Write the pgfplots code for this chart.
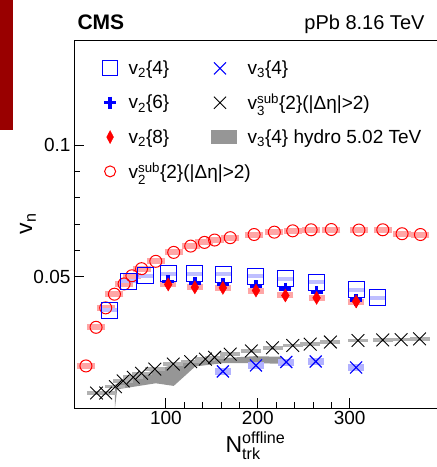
\documentclass[border=0pt]{standalone}
\usepackage{pgfplots}
\pgfplotsset{compat=1.18}
\usepackage{pgfplotstable}
\usepackage{amsmath}
\usepackage{fontspec}
\setmainfont{Liberation Sans}

\definecolor{cmsred}{RGB}{153,0,0}
\definecolor{hydro}{RGB}{150,150,150}

% v2^sub{2}(|deta|>2)
\pgfplotstableread{
N v
13 0.0160
24 0.0307
34.5 0.0381
44 0.0433
54.5 0.0472
63 0.0503
73.5 0.0530
89 0.0558
108.5 0.0592
127 0.0616
142 0.0630
153 0.0639
170 0.0648
196 0.0660
218 0.0669
238 0.0674
258 0.0678
280 0.0679
310 0.0677
336 0.0678
357 0.0663
377 0.0660
}\vtwosub

% v2{4}
\pgfplotstableread{
N v
39 0.0371
59 0.0482
78 0.0504
102.5 0.0511
131.5 0.0510
163 0.0508
198 0.0501
230 0.0491
264 0.0478
307 0.0450
330 0.0419
}\vtwofour

% v2{6}
\pgfplotstableread{
N v
102.5 0.0482
131.5 0.0476
162 0.0472
198 0.0463
230 0.0453
264 0.0440
307 0.0410
}\vtwosix

% v2{8}
\pgfplotstableread{
N v e
102.5 0.0470 0
131.5 0.0459 0
162 0.0457 0
198 0.0447 0
230 0.0428 0
264 0.0419 0
307 0.0405 0.0025
}\vtwoeight

% v3^sub{2}
\pgfplotstableread{
N v
24.5 0.0057
34.5 0.0057
45 0.0081
53.5 0.0103
64.5 0.0117
73.5 0.0132
88 0.0148
108 0.0167
127 0.0176
143 0.0186
153 0.0193
170 0.0205
193 0.0217
216 0.0229
238 0.0238
257 0.0243
279 0.0251
309 0.0257
336 0.0259
356 0.0260
376 0.0263
}\vthreesub

% v3{4}
\pgfplotstableread{
N v e
162 0.0139 0
198 0.0162 0
231 0.0175 0
263 0.0177 0
307 0.0154 0.0015
}\vthreefour

\begin{document}
\begin{tikzpicture}[font=\fontsize{20}{24}\selectfont]
\begin{axis}[
    name=ax,
    scale only axis, width=363pt, height=368pt,
    xmin=0, xmax=395, ymin=0, ymax=0.14,
    xtick={100,200,300}, ytick={0.05,0.1},
    minor x tick num=4, minor y tick num=4,
    tick pos=left, tick align=inside,
    major tick length=10pt, minor tick length=6pt,
    axis line style={line width=0.8pt},
    every tick/.style={black, line width=0.8pt},
    /pgf/number format/assume math mode=true,
    y tick label style={/pgf/number format/.cd, fixed, precision=2},
    tick label style={font=\fontsize{19}{22}\selectfont},
    xlabel={N$^\text{offline}_\text{trk}$},
    ylabel={v$_\text{n}$},
    label style={font=\fontsize{23}{26}\selectfont},
    xlabel style={at={(axis description cs:0.5,0)}, anchor=north, yshift=-20pt},
    ylabel style={at={(axis description cs:-0.127,0.5)}, anchor=center},
    legend columns=2,
    legend cell align=left,
    legend style={draw=none, fill=none, at={(axis description cs:0.07,0.955)},
        anchor=north west, row sep=14pt, font=\fontsize{19}{22}\selectfont,
        /tikz/every odd column/.style={column sep=9pt},
        /tikz/column 2/.style={column sep=40pt},
        /tikz/column 3/.style={column sep=6pt}},
]

% hydro band
\addplot[fill=hydro, draw=none, forget plot] coordinates {
    (44.6,0.0088) (54,0.0107) (72.5,0.0126) (90.5,0.0148) (108.5,0.0164)
    (127,0.0177) (145,0.0186) (163,0.0190) (196,0.0197) (226,0.0195)
    (226,0.0168) (196,0.0171) (163,0.0171) (132,0.0158) (108.5,0.0084)
    (89,0.0094) (47,0.0071) (44.6,0)
};

% systematic boxes
\addplot[only marks, mark=-, mark size=9pt, line width=6pt, red!35, forget plot] table[x=N,y=v] {\vtwosub};
\addplot[only marks, mark=-, mark size=8pt, line width=4pt, blue!25, forget plot] table[x=N,y=v] {\vtwofour};
\addplot[only marks, mark=-, mark size=8pt, line width=6pt, red!35, forget plot] table[x=N,y=v] {\vtwoeight};
\addplot[only marks, mark=-, mark size=10pt, line width=3.5pt, black!30, forget plot] table[x=N,y=v] {\vthreesub};
\addplot[only marks, mark=-, mark size=8pt, line width=7pt, blue!30, forget plot] table[x=N,y=v] {\vthreefour};

% points
\addplot[only marks, mark=o, mark size=6pt, red, line width=1pt, forget plot] table[x=N,y=v] {\vtwosub};
\addplot[only marks, mark=square, mark size=8pt, blue, line width=1pt, forget plot] table[x=N,y=v] {\vtwofour};
\addplot[only marks, mark=+, mark size=6pt, blue, line width=3.5pt, forget plot] table[x=N,y=v] {\vtwosix};
\addplot[only marks, mark=diamond*, mark size=6.5pt, red, mark options={xscale=0.8}, forget plot,
    error bars/.cd, y dir=both, y explicit, error mark=none,
    error bar style={line width=1pt}] table[x=N,y=v,y error=e] {\vtwoeight};
\addplot[only marks, mark=x, mark size=9pt, black, line width=0.9pt, forget plot] table[x=N,y=v] {\vthreesub};
\addplot[only marks, mark=x, mark size=8.5pt, blue, line width=1.2pt, forget plot,
    error bars/.cd, y dir=both, y explicit, error mark=none,
    error bar style={line width=1pt}] table[x=N,y=v,y error=e] {\vthreefour};

% legend
\addlegendimage{only marks, mark=square, mark size=7.5pt, blue, line width=1pt}
\addlegendentry{v$_\text{2}$\{4\}}
\addlegendimage{only marks, mark=x, mark size=8.5pt, blue, line width=1pt}
\addlegendentry{v$_\text{3}$\{4\}}
\addlegendimage{only marks, mark=+, mark size=6pt, blue, line width=3.5pt}
\addlegendentry{v$_\text{2}$\{6\}}
\addlegendimage{only marks, mark=x, mark size=8.5pt, black, line width=0.9pt}
\addlegendentry{v$_\text{3}^\text{sub}$\{2\}(|Δη|>2)}
\addlegendimage{only marks, mark=diamond*, mark size=6.5pt, red, mark options={xscale=0.7}}
\addlegendentry{v$_\text{2}$\{8\}}
\addlegendimage{legend image code/.code={\fill[hydro] (0pt,-6.5pt) rectangle (25pt,6.5pt);}}
\addlegendentry{v$_\text{3}$\{4\} hydro 5.02 TeV}
\addlegendimage{only marks, mark=o, mark size=5.5pt, red, line width=1pt}
\addlegendentry{\makebox[0pt][l]{v$_\text{2}^\text{sub}$\{2\}(|Δη|>2)}}
\end{axis}

\node[anchor=base west, font=\fontsize{21}{24}\selectfont\bfseries] at ([yshift=11pt]ax.north west) {CMS};
\node[anchor=base east, font=\fontsize{20}{24}\selectfont] at ([xshift=-9pt,yshift=11pt]ax.north east) {pPb 8.16 TeV};
\fill[cmsred] ([xshift=-74pt,yshift=40pt]ax.north west) rectangle ([xshift=-61pt,yshift=-90pt]ax.north west);

\pgfresetboundingbox
\path[use as bounding box] ([xshift=-74pt,yshift=40pt]ax.north west) rectangle ([yshift=-59pt]ax.south east);
\end{tikzpicture}
\end{document}
